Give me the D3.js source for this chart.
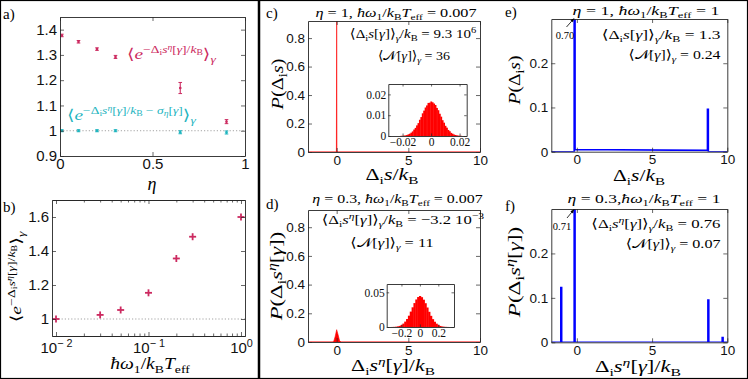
<!DOCTYPE html>
<html><head><meta charset="utf-8">
<script src="https://cdn.jsdelivr.net/npm/d3@7"></script>
<style>body{margin:0;background:#fff} svg{display:block}</style>
</head><body><svg id="fig" width="748" height="379"></svg>
<script>
// ---------------- data ----------------
const etaValues = [0.01, 0.1, 0.2, 0.3, 0.65, 0.9];
const expEntropy = [1.377, 1.352, 1.323, 1.292, 1.169, 1.036];
const expEntropyErr = [0.005, 0.005, 0.005, 0.006, 0.022, 0.008];
const expEntropySigma = [1.0, 1.0, 1.0, 1.0, 0.994, 0.993];
const expEntropySigmaErr = [0.004, 0.004, 0.004, 0.004, 0.006, 0.006];

const hwValues = [0.01, 0.03, 0.05, 0.1, 0.2, 0.3, 1];
const expEntropyHw = [1.0, 1.024, 1.053, 1.154, 1.356, 1.484, 1.6];

const cMainX = [-2, -0.02, 0, 0.02, 10];
const cMainY = [0, 0, 0.95, 0, 0];
const cInsetBinWidth = 0.001;
const cInsetX = [-0.024,-0.023,-0.022,-0.021,-0.020,-0.019,-0.018,-0.017,-0.016,-0.015,-0.014,-0.013,-0.012,-0.011,-0.010,-0.009,-0.008,-0.007,-0.006,-0.005,-0.004,-0.003,-0.002,-0.001,0,0.001,0.002,0.003,0.004,0.005,0.006,0.007,0.008,0.009,0.010,0.011,0.012,0.013,0.014,0.015,0.016,0.017,0.018,0.019,0.020,0.021,0.022,0.023,0.024];
const cInsetY = [0,0,0,0.0001,0.0001,0.0002,0.0003,0.0005,0.0008,0.0011,0.0016,0.0022,0.0031,0.0039,0.0051,0.0062,0.0078,0.0091,0.0109,0.0122,0.0137,0.0147,0.0159,0.0160,0.0166,0.0162,0.0156,0.0149,0.0135,0.0124,0.0107,0.0093,0.0076,0.0064,0.0049,0.0040,0.0029,0.0023,0.0015,0.0011,0.0007,0.0005,0.0003,0.0002,0.0001,0.0001,0,0,0];

const dMainX = [-2, -0.3, -0.2, -0.1, 0, 0.1, 0.2, 0.3, 10];
const dMainY = [0, 0, 0.006, 0.04, 0.086, 0.05, 0.01, 0, 0];
const dInsetBinWidth = 0.02;
const dInsetX = [-0.34,-0.32,-0.30,-0.28,-0.26,-0.24,-0.22,-0.20,-0.18,-0.16,-0.14,-0.12,-0.10,-0.08,-0.06,-0.04,-0.02,0,0.02,0.04,0.06,0.08,0.10,0.12,0.14,0.16,0.18,0.20,0.22,0.24,0.26,0.28,0.30,0.32,0.34];
const dInsetY = [0,0,0.0001,0.0002,0.0004,0.0009,0.0016,0.0029,0.0049,0.0078,0.0115,0.0163,0.0222,0.0284,0.0345,0.0397,0.0432,0.0447,0.0430,0.0394,0.0343,0.0281,0.0219,0.0161,0.0113,0.0076,0.0048,0.0028,0.0015,0.0008,0.0004,0.0002,0.0001,0,0];

const eLineX = [-1.7, -0.18, -0.18, -0.12, -0.12, 8.68, 8.68, 8.74, 8.74, 10];
const eLineY = [0, 0, 0.70, 0.70, 0.005, 0.003, 0.096, 0.096, 0, 0];
const fLineX = [-1.7, -1.07, -1.07, -1.01, -1.01, -0.18, -0.18, -0.12, -0.12, 8.71, 8.71, 8.77, 8.77, 9.66, 9.66, 9.72, 9.72, 10];
const fLineY = [0, 0, 0.123, 0.123, 0, 0, 0.71, 0.71, 0, 0, 0.095, 0.095, 0, 0, 0.0105, 0.0105, 0, 0];

const aXTicks = [0, 0.5, 1], aYTicks = [0.9, 1, 1.1, 1.2, 1.3, 1.4];
const bXTicks = [0.01, 0.1, 1], bXMinor = [0.02,0.03,0.04,0.05,0.06,0.07,0.08,0.09,0.2,0.3,0.4,0.5,0.6,0.7,0.8,0.9], bYTicks = [1, 1.2, 1.4, 1.6];
const cdXTicks = [0, 5, 10], cdYTicks = [0, 0.2, 0.4, 0.6, 0.8];
const efYTicks = [0, 0.1, 0.2];
const cInsetXTicks = [-0.02, 0, 0.02], cInsetYTicks = [0, 0.01, 0.02];
const dInsetXTicks = [-0.2, 0, 0.2], dInsetYTicks = [0, 0.05];

// ---------------- style ----------------
const SANS = "'Liberation Sans', Arial, sans-serif";
const SERIF = "'Liberation Serif', 'DejaVu Serif', serif";
const MAG = "#cc2a60", CYAN = "#1fb5bf", RED = "#ff0000", BLUE = "#0000ff", AX = "#262626";
const svg = d3.select("#fig");
svg.append("rect").attr("x",0.5).attr("y",0.5).attr("width",747).attr("height",378).attr("fill","#fff").attr("stroke","#000").attr("stroke-width",1.2);
svg.append("line").attr("x1",259).attr("x2",259).attr("y1",0).attr("y2",379).attr("stroke","#000").attr("stroke-width",2.5);

const LV = {"0":[0,1], "1":[-0.38,0.7], "-1":[0.24,0.7], "2":[-0.62,0.5], "3":[-0.25,0.5]};
function mathText(parts, o) {
  const g = svg.append("g").attr("transform", `translate(${o.x},${o.y})` + (o.rotate ? ` rotate(${o.rotate})` : ""));
  const t = g.append("text").attr("text-anchor", o.anchor || "middle").attr("font-family", SERIF).attr("fill", o.color || "#000");
  const fs = o.fs || 14;
  let cur = 0;
  parts.forEach(p => {
    const [s, lv, it] = p; const [off, sc] = LV[String(lv || 0)];
    const ts = t.append("tspan").text(s).attr("font-size", (fs * sc).toFixed(2)).attr("dy", ((off - cur) * fs).toFixed(2));
    if (it) ts.attr("font-style", "italic");
    cur = off;
  });
  if (o.width) { const w = t.node().getBBox().width; t.attr("transform", `scale(${(o.width / w).toFixed(3)},1)`); }
  return t;
}
function plainText(s, x, y, fs, o = {}) {
  return svg.append("text").attr("x", x).attr("y", y).attr("font-family", o.family || SERIF).attr("font-size", fs)
    .attr("text-anchor", o.anchor || "start").attr("fill", o.color || "#000").text(s);
}

function axes(x, y, xt, yt, o) {
  const g = svg.append("g").attr("color", AX);
  const [x0, x1] = x.range(), [y0, y1] = y.range();
  const tl = o.tl || 4, fs = o.fs || 13, fam = o.family || SANS;
  const xf = o.xfmt || d3.format("~g"), yf = o.yfmt || d3.format("~g");
  const bottom = g.append("g").attr("transform", `translate(0,${y0})`)
    .call(d3.axisBottom(x).tickValues(xt).tickSize(-tl).tickSizeOuter(0).tickPadding(o.xpad || 3).tickFormat(xf));
  g.append("g").attr("transform", `translate(0,${y1})`)
    .call(d3.axisTop(x).tickValues(xt).tickSize(-tl).tickSizeOuter(0).tickFormat(""));
  const left = g.append("g").attr("transform", `translate(${x0},0)`)
    .call(d3.axisLeft(y).tickValues(yt).tickSize(-tl).tickSizeOuter(0).tickPadding(o.ypad || 3).tickFormat(yf));
  g.append("g").attr("transform", `translate(${x1},0)`)
    .call(d3.axisRight(y).tickValues(yt).tickSize(-tl).tickSizeOuter(0).tickFormat(""));
  if (o.xminor) {
    g.append("g").attr("transform", `translate(0,${y0})`).call(d3.axisBottom(x).tickValues(o.xminor).tickSize(-2.5).tickSizeOuter(0).tickFormat(""));
    g.append("g").attr("transform", `translate(0,${y1})`).call(d3.axisTop(x).tickValues(o.xminor).tickSize(-2.5).tickSizeOuter(0).tickFormat(""));
  }
  g.selectAll(".domain").attr("stroke-width", 0.9);
  g.selectAll(".tick line").attr("stroke-width", 0.7);
  g.selectAll("text").attr("font-family", fam).attr("font-size", fs).attr("fill", "#111");
  return { g, bottom, left };
}
function clip(id, x, y) {
  svg.append("clipPath").attr("id", id).append("rect")
    .attr("x", x.range()[0]).attr("y", y.range()[1]).attr("width", x.range()[1] - x.range()[0]).attr("height", y.range()[0] - y.range()[1]);
  return `url(#${id})`;
}

// ---------------- panel a ----------------
{
  const x = d3.scaleLinear().domain([0, 1]).range([60, 245]);
  const y = d3.scaleLinear().domain([0.9, 1.45]).range([156, 17]);
  svg.append("line").attr("x1", x(0)).attr("x2", x(1)).attr("y1", y(1)).attr("y2", y(1))
    .attr("stroke", "#999").attr("stroke-dasharray", "1.2,2").attr("stroke-width", 0.9);
  const series = [[expEntropy, expEntropyErr, MAG], [expEntropySigma, expEntropySigmaErr, CYAN]];
  series.forEach(([vals, errs, col]) => {
    const gg = svg.append("g").attr("stroke", col).attr("fill", col);
    etaValues.forEach((e, i) => {
      const cx = x(e), lo = y(vals[i] - errs[i]), hi = y(vals[i] + errs[i]);
      gg.append("line").attr("x1", cx).attr("x2", cx).attr("y1", lo).attr("y2", hi).attr("stroke-width", 1.1);
      gg.append("line").attr("x1", cx - 1.8).attr("x2", cx + 1.8).attr("y1", lo).attr("y2", lo).attr("stroke-width", 1);
      gg.append("line").attr("x1", cx - 1.8).attr("x2", cx + 1.8).attr("y1", hi).attr("y2", hi).attr("stroke-width", 1);
      gg.append("circle").attr("cx", cx).attr("cy", y(vals[i])).attr("r", 1.3).attr("stroke", "none");
    });
  });
  axes(x, y, aXTicks, aYTicks, { fs: 15, xpad: 2, ypad: 3 });
  plainText("a)", 3, 19, 15);
  mathText([["η",0,1]], { x: 152, y: 190, fs: 18 });
  mathText([["⟨",0],["e",0,1],["−Δ",1],["i",3],["s",1,1],["η",2,1],["[",1],["γ",1,1],["]/",1],["k",1,1],["B",3],["⟩",0],["γ",-1,1]],
    { x: 127, y: 59, anchor: "start", width: 90, fs: 15, color: MAG });
  mathText([["⟨",0],["e",0,1],["−Δ",1],["i",3],["s",1,1],["η",2,1],["[",1],["γ",1,1],["]/",1],["k",1,1],["B",3],[" − ",1],["σ",1,1],["η",3,1],["[",1],["γ",1,1],["]",1],["⟩",0],["γ",-1,1]],
    { x: 67, y: 120, anchor: "start", width: 130, fs: 15, color: CYAN });
}

// ---------------- panel b ----------------
{
  const x = d3.scaleLog().domain([0.00905, 1.105]).range([52, 245]);
  const y = d3.scaleLinear().domain([0.9, 1.7]).range([336, 200]);
  svg.append("line").attr("x1", x.range()[0]).attr("x2", x.range()[1]).attr("y1", y(1)).attr("y2", y(1))
    .attr("stroke", "#999").attr("stroke-dasharray", "1.2,2").attr("stroke-width", 0.9);
  const gp = svg.append("g").attr("stroke", MAG).attr("stroke-width", 1.8);
  hwValues.forEach((h, i) => {
    const cx = x(h), cy = y(expEntropyHw[i]);
    gp.append("line").attr("x1", cx - 3.5).attr("x2", cx + 3.5).attr("y1", cy).attr("y2", cy);
    gp.append("line").attr("x1", cx).attr("x2", cx).attr("y1", cy - 3.5).attr("y2", cy + 3.5);
  });
  const a = axes(x, y, bXTicks, bYTicks, { fs: 15, xpad: 6, ypad: 3, xminor: bXMinor, xfmt: () => "" });
  a.bottom.selectAll(".tick text").each(function (d) {
    const t = d3.select(this);
    const ex = Math.round(Math.log10(d));
    t.append("tspan").text("10");
    t.append("tspan").attr("dy", "-0.55em").attr("font-size", "0.72em").text(ex < 0 ? "− " + (-ex) : String(ex));
  });
  plainText("b)", 3, 212, 15);
  mathText([["⟨",0],["e",0,1],["−Δ",1],["i",3],["s",1,1],["η",2,1],["[",1],["γ",1,1],["]/",1],["k",1,1],["B",3],["⟩",0],["γ",-1,1]],
    { x: 21, y: 277, rotate: -90, width: 92, fs: 15 });
  mathText([["ħω",0,1],["1",-1],["/",0],["k",0,1],["B",-1],["T",0,1],["eff",-1]], { x: 150, y: 369, width: 80, fs: 16 });
}

// ---------------- panel c ----------------
{
  const x = d3.scaleLinear().domain([-2, 10]).range([308, 480]);
  const y = d3.scaleLinear().domain([0, 0.92]).range([152, 21]);
  const cp = clip("clipc", x, y);
  const pts = cMainX.map((v, i) => [v, cMainY[i]]);
  svg.append("path").attr("clip-path", cp).attr("d", d3.area().x(d => x(d[0])).y0(y(0)).y1(d => y(d[1]))(pts))
    .attr("fill", RED).attr("stroke", RED).attr("stroke-width", 0.6);
  axes(x, y, cdXTicks, cdYTicks, { fs: 13.5 });
  // inset
  const xi = d3.scaleLinear().domain([-0.03, 0.025]).range([388.3, 466.7]);
  const yi = d3.scaleLinear().domain([0, 0.025]).range([136, 84]);
  svg.append("rect").attr("x", 388.3).attr("y", 84).attr("width", 78.4).attr("height", 52).attr("fill", "#fff");
  svg.append("g").selectAll("rect").data(cInsetX).join("rect")
    .attr("x", d => xi(d - cInsetBinWidth / 2)).attr("width", d => xi(d + cInsetBinWidth / 2) - xi(d - cInsetBinWidth / 2) + 0.4)
    .attr("y", (d, i) => yi(cInsetY[i])).attr("height", (d, i) => yi(0) - yi(cInsetY[i])).attr("fill", RED);
  axes(xi, yi, cInsetXTicks, cInsetYTicks, { fs: 11.5, family: SERIF, tl: 2.5, xpad: 2, ypad: 2 });
  plainText("c)", 266, 18, 15);
  mathText([["η",0,1],[" = 1, ",0],["ħω",0,1],["1",-1],["/",0],["k",0,1],["B",-1],["T",0,1],["eff",-1],[" = 0.007",0]], { x: 396, y: 17, width: 162, fs: 13 });
  mathText([["⟨Δ",0],["i",-1],["s",0,1],["[",0],["γ",0,1],["]⟩",0],["γ",-1,1],["/",0],["k",0,1],["B",-1],[" = 9.3 10",0],["6",1]], { x: 413, y: 38, width: 127, fs: 13 });
  mathText([["⟨",0],["𝒩",0],["[",0],["γ",0,1],["]⟩",0],["γ",-1,1],[" = 36",0]], { x: 414, y: 60, width: 72, fs: 13 });
  mathText([["P",0,1],["(Δ",0],["i",-1],["s",0,1],[")",0]], { x: 283, y: 84, rotate: -90, width: 52, fs: 17 });
  mathText([["Δ",0],["i",-1],["s",0,1],["/",0],["k",0,1],["B",-1]], { x: 392, y: 180, width: 53, fs: 16 });
}

// ---------------- panel d ----------------
{
  const x = d3.scaleLinear().domain([-2, 10]).range([308, 480]);
  const y = d3.scaleLinear().domain([0, 0.92]).range([342, 210]);
  const cp = clip("clipd", x, y);
  const pts = dMainX.map((v, i) => [v, dMainY[i]]);
  svg.append("path").attr("clip-path", cp).attr("d", d3.area().x(d => x(d[0])).y0(y(0)).y1(d => y(d[1]))(pts))
    .attr("fill", RED).attr("stroke", RED).attr("stroke-width", 0.6);
  axes(x, y, cdXTicks, cdYTicks, { fs: 13.5 });
  const xi = d3.scaleLinear().domain([-0.36, 0.37]).range([386.7, 454]);
  const yi = d3.scaleLinear().domain([0, 0.062]).range([327, 284]);
  svg.append("rect").attr("x", 386.7).attr("y", 284).attr("width", 67.3).attr("height", 43).attr("fill", "#fff");
  svg.append("g").selectAll("rect").data(dInsetX).join("rect")
    .attr("x", d => xi(d - dInsetBinWidth / 2)).attr("width", d => xi(d + dInsetBinWidth / 2) - xi(d - dInsetBinWidth / 2) + 0.4)
    .attr("y", (d, i) => yi(dInsetY[i])).attr("height", (d, i) => yi(0) - yi(dInsetY[i])).attr("fill", RED);
  axes(xi, yi, dInsetXTicks, dInsetYTicks, { fs: 11.5, family: SERIF, tl: 2.5, xpad: 2, ypad: 2 });
  plainText("d)", 266, 209, 15);
  mathText([["η",0,1],[" = 0.3, ",0],["ħω",0,1],["1",-1],["/",0],["k",0,1],["B",-1],["T",0,1],["eff",-1],[" = 0.007",0]], { x: 397.5, y: 203, width: 171, fs: 13 });
  mathText([["⟨Δ",0],["i",-1],["s",0,1],["η",1,1],["[",0],["γ",0,1],["]⟩",0],["γ",-1,1],["/",0],["k",0,1],["B",-1],[" = −3.2 10",0],["−3",1]], { x: 403, y: 224, width: 163, fs: 13 });
  mathText([["⟨",0],["𝒩",0],["[",0],["γ",0,1],["]⟩",0],["γ",-1,1],[" = 11",0]], { x: 392, y: 247, width: 83, fs: 13 });
  mathText([["P",0,1],["(Δ",0],["i",-1],["s",0,1],["η",1,1],["[",0],["γ",0,1],["])",0]], { x: 282, y: 276, rotate: -90, width: 90, fs: 17 });
  mathText([["Δ",0],["i",-1],["s",0,1],["η",1,1],["[",0],["γ",0,1],["]/",0],["k",0,1],["B",-1]], { x: 393, y: 371, width: 84, fs: 16 });
}

// ---------------- panels e, f ----------------
function arrow(x1, y1, x2, y2) {
  svg.append("line").attr("x1", x1).attr("y1", y1).attr("x2", x2).attr("y2", y2).attr("stroke", "#000").attr("stroke-width", 0.8);
  const ang = Math.atan2(y2 - y1, x2 - x1), L = 4, W = 0.45;
  const p = [[x2, y2], [x2 - L * Math.cos(ang - W), y2 - L * Math.sin(ang - W)], [x2 - L * Math.cos(ang + W), y2 - L * Math.sin(ang + W)]];
  svg.append("path").attr("d", "M" + p.join("L") + "Z").attr("fill", "#000");
}
[
  { lx: eLineX, ly: eLineY, top: 19, bot: 151.7, lab: "e)", ly0: 17, id: "clipe" },
  { lx: fLineX, ly: fLineY, top: 209, bot: 342.3, lab: "f)", ly0: 211, id: "clipf" }
].forEach(P => {
  const x = d3.scaleLinear().domain([-1.7, 10]).range([551.3, 727.3]);
  const y = d3.scaleLinear().domain([0, 0.3]).range([P.bot, P.top]);
  const cp = clip(P.id, x, y);
  const pts = P.lx.map((v, i) => [v, P.ly[i]]);
  svg.append("path").attr("clip-path", cp).attr("d", d3.line().x(d => x(d[0])).y(d => y(d[1]))(pts))
    .attr("fill", "none").attr("stroke", BLUE).attr("stroke-width", 1.6);
  axes(x, y, cdXTicks, efYTicks, { fs: 13.5 });
  plainText(P.lab, 505, P.ly0, 15);
});
arrow(566.5, 27, 574, 18.5);
plainText("0.70", 565, 38.5, 10.5, { anchor: "middle" });
arrow(567, 218, 574, 209.5);
plainText("0.71", 562, 229.5, 10.5, { anchor: "middle" });
mathText([["η",0,1],[" = 1, ",0],["ħω",0,1],["1",-1],["/",0],["k",0,1],["B",-1],["T",0,1],["eff",-1],[" = 1",0]], { x: 646, y: 15, width: 147, fs: 13 });
mathText([["η",0,1],[" = 0.3,",0],["ħω",0,1],["1",-1],["/",0],["k",0,1],["B",-1],["T",0,1],["eff",-1],[" = 1",0]], { x: 644, y: 203, width: 153, fs: 13 });
mathText([["⟨Δ",0],["i",-1],["s",0,1],["[",0],["γ",0,1],["]⟩",0],["γ",-1,1],["/",0],["k",0,1],["B",-1],[" = 1.3",0]], { x: 720.5, y: 39, anchor: "end", width: 119, fs: 13 });
mathText([["⟨",0],["𝒩",0],["[",0],["γ",0,1],["]⟩",0],["γ",-1,1],[" = 0.24",0]], { x: 720.5, y: 59, anchor: "end", width: 93, fs: 13 });
mathText([["⟨Δ",0],["i",-1],["s",0,1],["η",1,1],["[",0],["γ",0,1],["]⟩",0],["γ",-1,1],["/",0],["k",0,1],["B",-1],[" = 0.76",0]], { x: 720.5, y: 228, anchor: "end", width: 130, fs: 13 });
mathText([["⟨",0],["𝒩",0],["[",0],["γ",0,1],["]⟩",0],["γ",-1,1],[" = 0.07",0]], { x: 720.5, y: 248, anchor: "end", width: 95, fs: 13 });
mathText([["P",0,1],["(Δ",0],["i",-1],["s",0,1],[")",0]], { x: 520, y: 80, rotate: -90, width: 50, fs: 17 });
mathText([["P",0,1],["(Δ",0],["i",-1],["s",0,1],["η",1,1],["[",0],["γ",0,1],["])",0]], { x: 520, y: 272, rotate: -90, width: 92, fs: 17 });
mathText([["Δ",0],["i",-1],["s",0,1],["/",0],["k",0,1],["B",-1]], { x: 639, y: 181, width: 52, fs: 16 });
mathText([["Δ",0],["i",-1],["s",0,1],["η",1,1],["[",0],["γ",0,1],["]/",0],["k",0,1],["B",-1]], { x: 638, y: 372, width: 86, fs: 16 });
</script></body></html>
